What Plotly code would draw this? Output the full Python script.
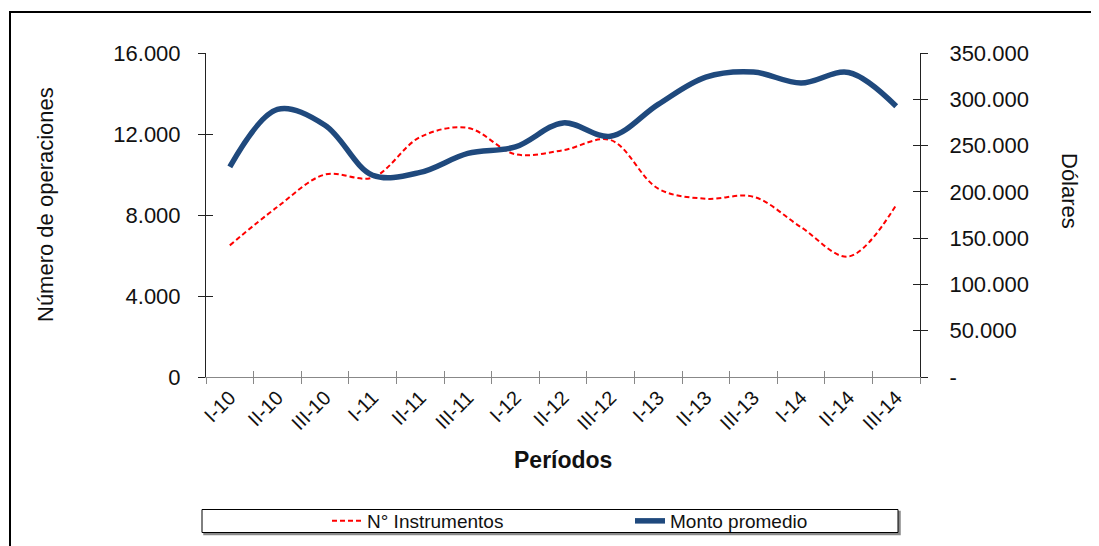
import plotly.graph_objects as go

periodos = ["I-10", "II-10", "III-10", "I-11", "II-11", "III-11", "I-12", "II-12",
            "III-12", "I-13", "II-13", "III-13", "I-14", "II-14", "III-14"]
instrumentos = [6500, 8400, 10000, 9850, 11850, 12300, 11000, 11200, 11700,
                9300, 8800, 8900, 7400, 5950, 8500]
monto_promedio = [227000, 289000, 272000, 218000, 221000, 241500, 248500, 274500,
                  260000, 294500, 324000, 329500, 317500, 329000, 292500]

left_ticks = [0, 4000, 8000, 12000, 16000]
left_labels = ["0", "4.000", "8.000", "12.000", "16.000"]
right_ticks = [0, 50000, 100000, 150000, 200000, 250000, 300000, 350000]
right_labels = ["-", "50.000", "100.000", "150.000", "200.000", "250.000", "300.000", "350.000"]

FONT = "Liberation Sans, Arial, sans-serif"
OFF = 8  # page body margin
W, H = 1099 - OFF, 546 - OFF
# plot area in screen pixels: x 206..920, y 53..377
ML, MT = 206 - OFF, 53 - OFF
MR = W - (920 - OFF)
MB = H - (377 - OFF)
PW, PH = W - ML - MR, H - MT - MB


def px(x):
    return (x - OFF - ML) / PW


def py(y):
    return (H - MB - (y - OFF)) / PH


n = len(periodos)
xs = list(range(n))
bounds = [i - 0.5 for i in range(n + 1)]

fig = go.Figure()
fig.add_trace(go.Scatter(
    x=xs, y=instrumentos, name="N° Instrumentos", mode="lines",
    line=dict(color="#FF0000", width=2, dash="5px,3px", shape="spline", smoothing=1.0),
    xaxis="x", yaxis="y"))
fig.add_trace(go.Scatter(
    x=xs, y=monto_promedio, name="Monto promedio", mode="lines",
    line=dict(color="#1F497D", width=5.5, shape="spline", smoothing=1.0),
    xaxis="x", yaxis="y2"))

xr = [-0.5, n - 0.5]
common_tick = dict(family=FONT, size=22, color="#111111")

fig.update_layout(
    width=W, height=H,
    margin=dict(l=ML, r=MR, t=MT, b=MB, autoexpand=False),
    paper_bgcolor="white", plot_bgcolor="white",
    font=dict(family=FONT, color="#111111"),
    showlegend=True,
    legend=dict(orientation="h", x=px(327), xanchor="left", y=py(521), yanchor="middle",
                font=dict(family=FONT, size=19, color="#111111"),
                entrywidth=258, entrywidthmode="pixels",
                bgcolor="rgba(0,0,0,0)", borderwidth=0, itemwidth=30),
    xaxis=dict(range=xr, tickmode="array", tickvals=xs, ticktext=periodos, ticks="",
               tickangle=-45, tickfont=dict(family=FONT, size=20, color="#111111"),
               showline=True, linecolor="#888888", linewidth=1, showgrid=False,
               zeroline=False, fixedrange=True),
    xaxis2=dict(range=xr, overlaying="x", anchor="y", side="bottom", tickmode="array",
                tickvals=bounds, ticks="outside", ticklen=6, tickcolor="#888888",
                showticklabels=False, showline=False, showgrid=False, zeroline=False),
    xaxis3=dict(range=xr, overlaying="x", anchor="y", side="bottom", tickmode="array",
                tickvals=bounds, ticks="inside", ticklen=6, tickcolor="#888888",
                showticklabels=False, showline=False, showgrid=False, zeroline=False),
    yaxis=dict(range=[0, 16000], tickmode="array", tickvals=left_ticks, ticktext=left_labels,
               ticks="outside", ticklen=7, tickcolor="#222222", ticklabelstandoff=13,
               tickfont=common_tick, showline=True, linecolor="#222222", linewidth=1,
               showgrid=False, zeroline=False),
    yaxis2=dict(range=[0, 350000], overlaying="y", side="right", anchor="x",
                tickmode="array", tickvals=right_ticks, ticktext=right_labels,
                ticks="outside", ticklen=7, tickcolor="#222222", ticklabelstandoff=17,
                tickfont=common_tick, showline=True, linecolor="#222222", linewidth=1,
                showgrid=False, zeroline=False),
    yaxis3=dict(range=[0, 16000], overlaying="y", side="left", anchor="x",
                tickmode="array", tickvals=left_ticks, ticks="inside", ticklen=7,
                tickcolor="#222222", showticklabels=False, showline=False,
                showgrid=False, zeroline=False),
    yaxis4=dict(range=[0, 350000], overlaying="y", side="right", anchor="x",
                tickmode="array", tickvals=right_ticks, ticks="inside", ticklen=7,
                tickcolor="#222222", showticklabels=False, showline=False,
                showgrid=False, zeroline=False),
)

# invisible traces so the overlay tick axes render
fig.add_trace(go.Scatter(x=[None], y=[None], xaxis="x2", yaxis="y3", showlegend=False,
                         hoverinfo="skip"))
fig.add_trace(go.Scatter(x=[None], y=[None], xaxis="x3", yaxis="y4", showlegend=False,
                         hoverinfo="skip"))

shapes = [
    # outer chart border
    dict(type="rect", xref="paper", yref="paper", x0=px(10), x1=px(1115), y0=py(560), y1=py(12),
         line=dict(color="#000000", width=2), fillcolor="rgba(0,0,0,0)", layer="below"),
    # legend shadow
    dict(type="rect", xref="paper", yref="paper", x0=px(204), x1=px(900), y0=py(534.5), y1=py(511.5),
         line=dict(color="#8a8a8a", width=1.5), fillcolor="#8a8a8a", layer="below"),
    # legend box
    dict(type="rect", xref="paper", yref="paper", x0=px(202), x1=px(898), y0=py(532.5), y1=py(509.5),
         line=dict(color="#000000", width=1), fillcolor="#ffffff", layer="below"),
]
fig.update_layout(shapes=shapes)

annotations = [
    dict(text="Número de operaciones", xref="paper", yref="paper", x=px(45), y=py(205),
         showarrow=False, textangle=-90, xanchor="center", yanchor="middle",
         font=dict(family=FONT, size=22, color="#111111")),
    dict(text="Dólares", xref="paper", yref="paper", x=px(1070), y=py(191),
         showarrow=False, textangle=90, xanchor="center", yanchor="middle",
         font=dict(family=FONT, size=22, color="#111111")),
    dict(text="<b>Períodos</b>", xref="paper", yref="paper", x=px(563), y=py(460),
         showarrow=False, xanchor="center", yanchor="middle",
         font=dict(family=FONT, size=23, color="#111111")),
]
fig.update_layout(annotations=annotations)

fig.write_html("out.html")
